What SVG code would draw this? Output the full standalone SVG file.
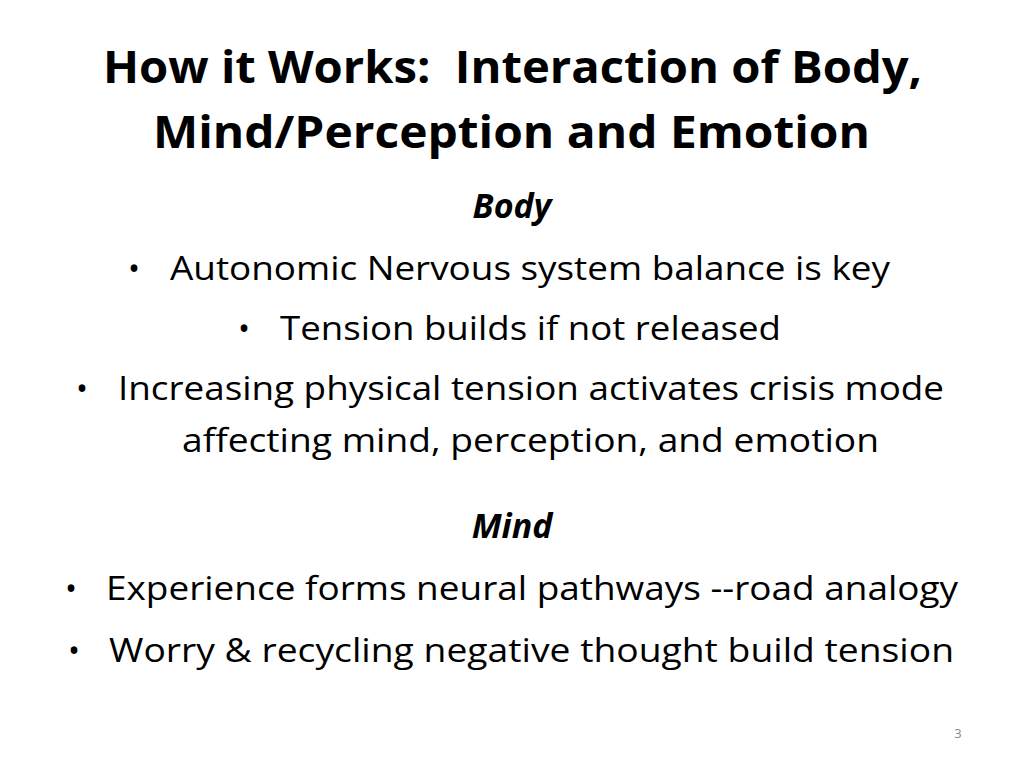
<svg xmlns="http://www.w3.org/2000/svg" width="1024" height="768" viewBox="0 0 1024 768">
<style>
text{font-family:"Open Sans","Liberation Sans",sans-serif;fill:#000}
.t{font-size:44px;font-weight:bold;white-space:pre}
.h{font-size:34px;font-weight:bold;font-style:italic}
.b{font-size:32px}
</style>
<rect width="1024" height="768" fill="#fff"/>
<g id="title">
<text class="t" x="103" y="83" textLength="819" lengthAdjust="spacingAndGlyphs">How it Works:  Interaction of Body,</text>
<text class="t" x="153" y="148" textLength="717" lengthAdjust="spacingAndGlyphs">Mind/Perception and Emotion</text>
</g>
<g id="body">
<text class="h" x="512" y="218" text-anchor="middle">Body</text>
<text class="b" x="128" y="280">•</text>
<text class="b" x="170" y="280" textLength="720" lengthAdjust="spacingAndGlyphs">Autonomic Nervous system balance is key</text>
<text class="b" x="238" y="340">•</text>
<text class="b" x="280" y="340" textLength="501" lengthAdjust="spacingAndGlyphs">Tension builds if not released</text>
<text class="b" x="76" y="400">•</text>
<text class="b" x="118" y="400" textLength="826" lengthAdjust="spacingAndGlyphs">Increasing physical tension activates crisis mode</text>
<text class="b" x="182" y="452" textLength="697" lengthAdjust="spacingAndGlyphs">affecting mind, perception, and emotion</text>
</g>
<g id="mind">
<text class="h" x="512" y="538" text-anchor="middle">Mind</text>
<text class="b" x="65" y="600">•</text>
<text class="b" x="106" y="600" textLength="852" lengthAdjust="spacingAndGlyphs">Experience forms neural pathways --road analogy</text>
<text class="b" x="68" y="662">•</text>
<text class="b" x="109" y="662" textLength="845" lengthAdjust="spacingAndGlyphs">Worry &amp; recycling negative thought build tension</text>
</g>
<text x="958" y="738" font-size="13" text-anchor="middle" style="fill:#888">3</text>
</svg>
